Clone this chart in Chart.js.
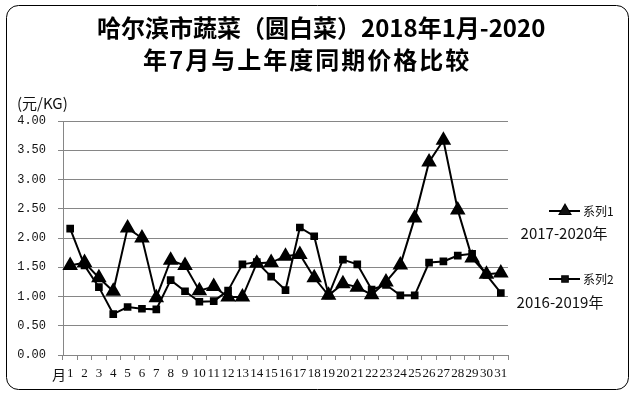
<!DOCTYPE html>
<html>
<head>
<meta charset="utf-8">
<script src="https://cdn.jsdelivr.net/npm/chart.js@4"></script>
<style>
  html, body { margin: 0; padding: 0; background: #fff; }
  #wrap { width: 636px; height: 396px; }
</style>
</head>
<body>
<div id="wrap"><canvas id="c" width="636" height="396"></canvas></div>
<script>
// category labels: days 1..31 (x axis)
const days = ['1','2','3','4','5','6','7','8','9','10','11','12','13','14','15','16',
  '17','18','19','20','21','22','23','24','25','26','27','28','29','30','31'];

// 系列1 : 2017-2020年
const series1 = [1.53, 1.58, 1.32, 1.09, 2.17, 2.00, 0.98, 1.62, 1.53, 1.10, 1.17, 0.99, 0.99,
  1.57, 1.58, 1.69, 1.72, 1.32, 1.02, 1.22, 1.16, 1.03, 1.25, 1.54, 2.34, 3.30, 3.67, 2.48,
  1.66, 1.38, 1.40];

// 系列2 : 2016-2019年
const series2 = [2.16, 1.53, 1.16, 0.70, 0.82, 0.79, 0.78, 1.28, 1.09, 0.91, 0.92, 1.10, 1.55,
  1.59, 1.34, 1.11, 2.18, 2.03, 1.02, 1.63, 1.55, 1.12, 1.20, 1.02, 1.02, 1.58, 1.60, 1.70,
  1.73, 1.37, 1.06];

const yTicks = [0, 0.5, 1, 1.5, 2, 2.5, 3, 3.5, 4];

const titleLines = ['哈尔滨市蔬菜（圆白菜）2018年1月-2020', '年7月与上年度同期价格比较'];
const legendItems = [
  { name: '系列1', period: '2017-2020年', style: 'triangle' },
  { name: '系列2', period: '2016-2019年', style: 'rect' }
];

const cjk = '"Noto Sans CJK SC", "Noto Sans", sans-serif';

// frame, title, unit label, "月" and the side legend
const decor = {
  id: 'decor',
  beforeDraw(chart) {
    const ctx = chart.ctx;
    ctx.save();
    ctx.fillStyle = '#fff';
    ctx.fillRect(0, 0, chart.width, chart.height);
    ctx.strokeStyle = '#000';
    ctx.lineWidth = 1;
    ctx.beginPath();
    ctx.roundRect(6.5, 5.5, 622, 384, 12);
    ctx.stroke();
    ctx.restore();
  },
  afterDraw(chart) {
    const ctx = chart.ctx;
    const area = chart.chartArea;
    ctx.save();
    ctx.fillStyle = '#000';
    ctx.textAlign = 'left';
    ctx.textBaseline = 'middle';
    ctx.font = 'bold 24px ' + cjk;
    ctx.fillText(titleLines[0], 97, 28);
    ctx.letterSpacing = '2px';
    ctx.fillText(titleLines[1], 143, 60);
    ctx.letterSpacing = '0px';

    ctx.font = '15px ' + cjk;
    ctx.fillStyle = '#111';
    ctx.fillText('(元/KG)', 17, 103);
    ctx.font = '14px ' + cjk;
    ctx.textAlign = 'center';
    ctx.fillText('月', area.left - 4, 375);

    const rows = [211, 279];
    const periodY = [233, 302];
    const periodX = [564, 560];
    legendItems.forEach((it, i) => {
      const y = rows[i];
      ctx.strokeStyle = '#000';
      ctx.lineWidth = 2;
      ctx.beginPath();
      ctx.moveTo(549, y);
      ctx.lineTo(580, y);
      ctx.stroke();
      Chart.helpers.drawPoint(ctx, {
        pointStyle: it.style, radius: it.style === 'triangle' ? 6 : 4, borderWidth: 1
      }, 565, y);
      ctx.fill();
      ctx.font = '12px ' + cjk;
      ctx.textAlign = 'left';
      ctx.fillStyle = '#111';
      ctx.fillText(it.name, 583, y);
      ctx.font = '15px ' + cjk;
      ctx.textAlign = 'center';
      ctx.fillText(it.period, periodX[i], periodY[i]);
    });
    ctx.restore();
  }
};

new Chart(document.getElementById('c'), {
  type: 'line',
  data: {
    labels: days,
    datasets: [{
      label: '系列1',
      data: series1,
      borderColor: '#000',
      backgroundColor: '#000',
      borderWidth: 2,
      pointStyle: 'triangle',
      pointRadius: 7,
      pointHoverRadius: 7,
      tension: 0
    }, {
      label: '系列2',
      data: series2,
      borderColor: '#000',
      backgroundColor: '#000',
      borderWidth: 2,
      pointStyle: 'rect',
      pointRadius: 4,
      pointHoverRadius: 4,
      tension: 0
    }]
  },
  options: {
    responsive: false,
    animation: false,
    layout: { padding: { top: 121, right: 128, bottom: 6, left: 0 } },
    plugins: {
      legend: { display: false },
      title: { display: false },
      tooltip: { enabled: false }
    },
    scales: {
      x: {
        offset: true,
        grid: { offset: true, drawOnChartArea: false, color: '#868686', tickLength: 5 },
        border: { color: '#868686' },
        ticks: {
          autoSkip: false, maxRotation: 0, padding: 6,
          color: '#111', font: { family: '"Liberation Serif", serif', size: 13 }
        },
        afterFit(scale) { scale.height = 35; }
      },
      y: {
        min: 0,
        max: 4,
        afterBuildTicks(scale) { scale.ticks = yTicks.map(v => ({ value: v })); },
        grid: { color: '#868686', tickLength: 5 },
        border: { color: '#868686' },
        ticks: {
          padding: 12,
          color: '#111',
          font: { family: '"Liberation Mono", monospace', size: 12 },
          callback: v => v.toFixed(2)
        },
        afterFit(scale) { scale.width = 63; }
      }
    }
  },
  plugins: [decor]
});
</script>
</body>
</html>
